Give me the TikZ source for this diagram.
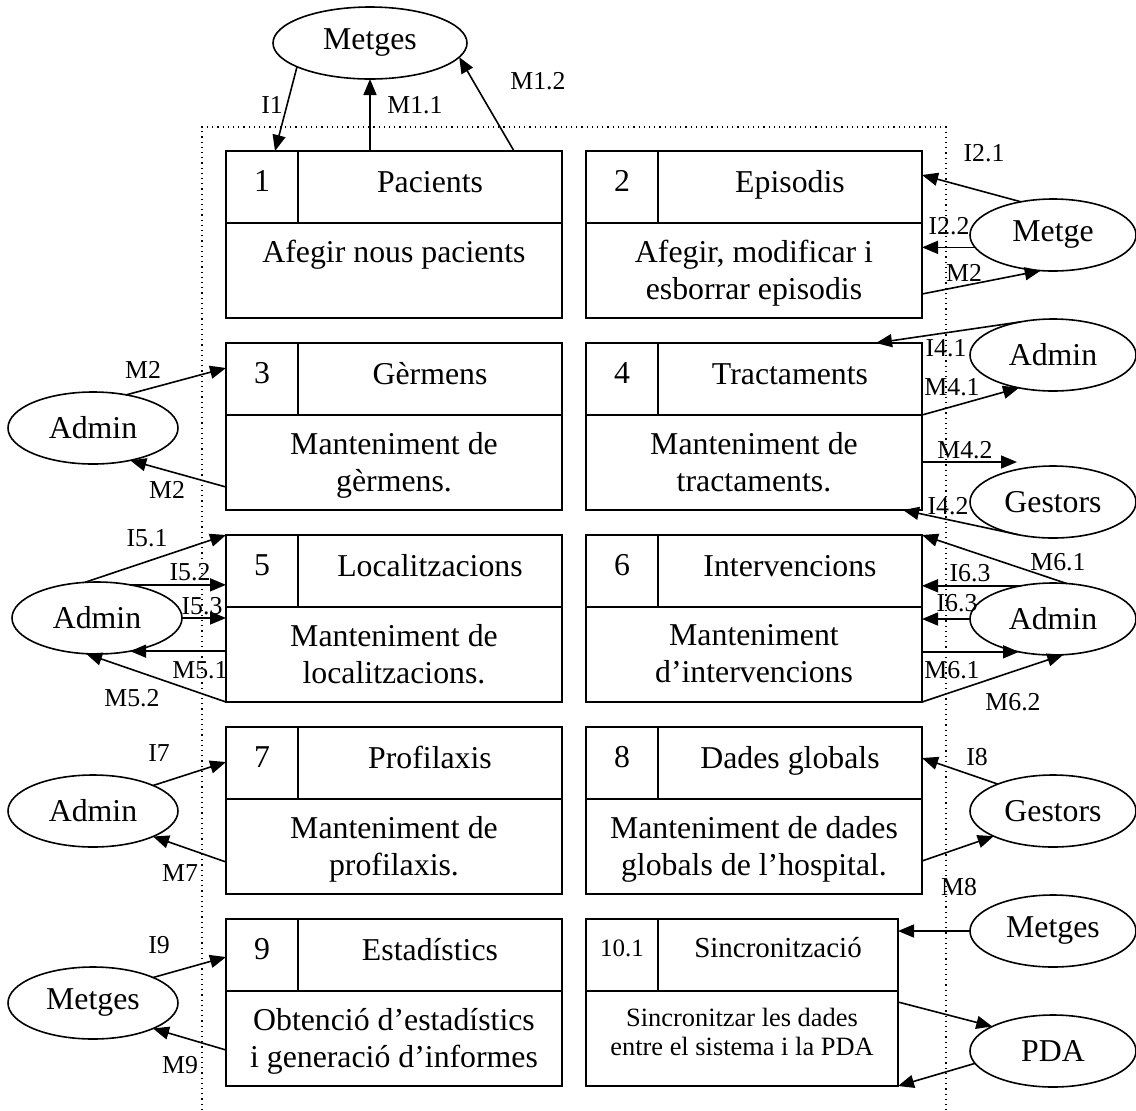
\documentclass[tikz,border=0pt]{standalone}
\usepackage{fontspec}
\setmainfont{Liberation Serif}
\usepackage{tikz}
\usetikzlibrary{arrows.meta, shapes.geometric, calc}

\newcommand{\dfdbox}[5]{%
  \node[procbox] (#1) at (#2) {};
  \draw[boxline] ($(#1.north west)+(0,72)$) -- ($(#1.north east)+(0,72)$);
  \draw[boxline] ($(#1.north west)+(72,0)$) -- ($(#1.north west)+(72,72)$);
  \node[numtxt] (#1-num) at ($(#1.north west)+(36,40)$) {#3};
  \node[titletxt] (#1-tit) at ($(#1.north)+(36,41)$) {#4};
  \node[desctxt] (#1-desc) at ($(#1.north)+(0,89)$) {#5};
}

\begin{document}
\begin{tikzpicture}[x=0.5pt, y=-0.5pt,
    procbox/.style={draw, line width=1pt, anchor=north west, inner sep=0pt, outer sep=0pt,
      minimum width=168pt, minimum height=83.5pt},
    boxline/.style={line width=1pt},
    numtxt/.style={anchor=base, inner sep=0pt, font=\fontsize{15.9}{18.5}\selectfont},
    titletxt/.style={anchor=base, inner sep=0pt, font=\fontsize{15.9}{18.5}\selectfont},
    desctxt/.style={anchor=north, align=center, inner sep=0pt, font=\fontsize{15.9}{18.5}\selectfont},
    actor/.style={ellipse, draw, line width=0.8pt, inner sep=0pt, outer sep=0pt,
      minimum width=83pt, minimum height=36pt, font=\fontsize{15.9}{18.5}\selectfont},
    flow/.style={line width=0.8pt, -{Triangle[length=8pt,width=6.5pt]}},
    lab/.style={inner sep=0pt, font=\fontsize{12.9}{15}\selectfont},
    dotframe/.style={dotted, line width=0.6pt}]
  \useasboundingbox (0,0) rectangle (1136,1110);

  \draw[dotframe] (202,1110) -- (202,127) -- (946,127) -- (946,1110);

  % processes
  \dfdbox{b1}{226,151}{1}{Pacients}{Afegir nous pacients}
  \dfdbox{b2}{586,151}{2}{Episodis}{Afegir, modificar i\\esborrar episodis}
  \dfdbox{b3}{226,343}{3}{Gèrmens}{Manteniment de\\gèrmens.}
  \dfdbox{b4}{586,343}{4}{Tractaments}{Manteniment de\\tractaments.}
  \dfdbox{b5}{226,535}{5}{Localitzacions}{Manteniment de\\localitzacions.}
  \dfdbox{b6}{586,535}{6}{Intervencions}{Manteniment\\d’intervencions}
  \dfdbox{b7}{226,727}{7}{Profilaxis}{Manteniment de\\profilaxis.}
  \dfdbox{b8}{586,727}{8}{Dades globals}{Manteniment de dades\\globals de l’hospital.}
  \dfdbox{b9}{226,919}{9}{Estadístics}{Obtenció d’estadístics\\i generació d’informes}
  \begin{scope}[procbox/.append style={minimum width=156pt},
      numtxt/.append style={font=\fontsize{12.5}{14}\selectfont, yshift=1.5pt},
      titletxt/.append style={font=\fontsize{14.5}{17}\selectfont, yshift=1.5pt},
      desctxt/.append style={font=\fontsize{13.2}{14.5}\selectfont}]
    \dfdbox{b10}{586,919}{10.1}{Sincronització}{Sincronitzar les dades\\entre el sistema i la PDA}
  \end{scope}

  % external entities
  \node[actor, minimum width=97pt] (met1) at (370,43) {Metges};
  \node[actor] (met2) at (1053,235) {Metge};
  \node[actor] (adm4) at (1053,355) {Admin};
  \node[actor] (ges4) at (1053,502) {Gestors};
  \node[actor] (adm6) at (1053,619) {Admin};
  \node[actor] (ges8) at (1053,811) {Gestors};
  \node[actor] (met10) at (1053,931) {Metges};
  \node[actor] (pda) at (1053,1051) {PDA};
  \node[actor, minimum width=85pt] (adm3) at (93,428) {Admin};
  \node[actor, minimum width=85pt] (adm5) at (97,618) {Admin};
  \node[actor, minimum width=85pt] (adm7) at (93,811) {Admin};
  \node[actor, minimum width=85pt] (met9) at (93,1003) {Metges};

  % flows
  \draw[flow] (met1.198) -- ($(b1.north west)+(49,0)$);
  \draw[flow] ($(b1.north west)+(144,0)$) -- (met1.south);
  \draw[flow] ($(b1.north west)+(288,0)$) -- (met1.351);

  \draw[flow] (met2.134) -- ($(b2.north east)+(0,24)$);
  \draw[flow] (met2.189) -- (met2.189 -| b2.east);
  \draw[flow] ($(b2.north east)+(0,143)$) -- (met2.251);
  \draw[flow] (adm4.134) -- ($(b4.north east)+(-46,0)$);
  \draw[flow] ($(b4.north east)+(0,72)$) -- (adm4.224);
  \draw[flow] ($(b4.north east)+(0,119)$) -- ($(ges4.center)+(-36,-40)$);
  \draw[flow] (ges4.223) -- ($(b4.south east)+(-19,0)$);
  \draw[flow] (adm6.69) -- (b6.north east);
  \draw[flow] (adm6.134) -- (adm6.134 -| b6.east);
  \draw[flow] (adm6.west) -- (adm6.west -| b6.east);
  \draw[flow] (adm6.224 -| b6.east) -- (adm6.224);
  \draw[flow] (b6.south east) -- (adm6.286);
  \draw[flow] (ges8.154) -- ($(b8.north east)+(0,31)$);
  \draw[flow] ($(b8.north east)+(0,134)$) -- (ges8.203);
  \draw[flow] (met10.west) -- (met10.west -| b10.east);
  \draw[flow] ($(b10.north east)+(0,83)$) -- (pda.158);
  \draw[flow] (pda.189) -- (b10.south east);

  \draw[flow] (adm3.45) -- ($(b3.north west)+(0,25)$);
  \draw[flow] ($(b3.north west)+(0,144)$) -- (adm3.319);
  \draw[flow] (adm5.109) -- (b5.north west);
  \draw[flow] (adm5.45) -- (adm5.45 -| b5.west);
  \draw[flow] (adm5.east) -- (adm5.east -| b5.west);
  \draw[flow] (adm5.315 -| b5.west) -- (adm5.315);
  \draw[flow] (b5.south west) -- (adm5.253);
  \draw[flow] (adm7.23) -- ($(b7.north west)+(0,35)$);
  \draw[flow] ($(b7.north west)+(0,135)$) -- (adm7.337);
  \draw[flow] (met9.23) -- ($(b9.north west)+(0,38)$);
  \draw[flow] ($(b9.north west)+(0,131)$) -- (met9.337);

  % flow labels
  \node[lab] (lI1) at (272,105) {I1};
  \node[lab] (lM11) at (415,105) {M1.1};
  \node[lab] (lM12) at (538,81) {M1.2};
  \node[lab] (lI21) at (984,153) {I2.1};
  \node[lab] (lI22) at (949,226) {I2.2};
  \node[lab] (lM2r) at (964,273) {M2};
  \node[lab] (lI41) at (946,348) {I4.1};
  \node[lab] (lM41) at (952,387) {M4.1};
  \node[lab] (lM42) at (965,450) {M4.2};
  \node[lab] (lI42) at (948,506) {I4.2};
  \node[lab] (lM61a) at (1058,562) {M6.1};
  \node[lab] (lI63a) at (970,573) {I6.3};
  \node[lab] (lI63b) at (957,603) {I6.3};
  \node[lab] (lM61b) at (952,670) {M6.1};
  \node[lab] (lM62) at (1013,702) {M6.2};
  \node[lab] (lI8) at (977,757) {I8};
  \node[lab] (lM8) at (959,887) {M8};
  \node[lab] (lM2a) at (143,370) {M2};
  \node[lab] (lM2b) at (167,490) {M2};
  \node[lab] (lI51) at (147,538) {I5.1};
  \node[lab] (lI52) at (190,572) {I5.2};
  \node[lab] (lI53) at (202,606) {I5.3};
  \node[lab] (lM51) at (200,670) {M5.1};
  \node[lab] (lM52) at (132,698) {M5.2};
  \node[lab] (lI7) at (159,753) {I7};
  \node[lab] (lM7) at (180,873) {M7};
  \node[lab] (lI9) at (159,945) {I9};
  \node[lab] (lM9) at (180,1065) {M9};
\end{tikzpicture}
\end{document}
